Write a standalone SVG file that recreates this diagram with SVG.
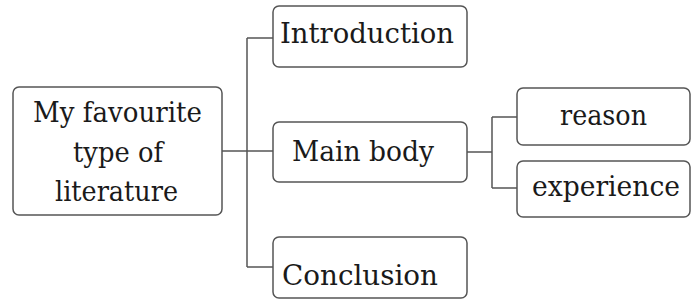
<svg xmlns="http://www.w3.org/2000/svg" width="696" height="302" viewBox="0 0 696 302">
<style>
.box{fill:#fff;stroke:#555;stroke-width:1.5}
.t{font-family:"DejaVu Serif",serif;font-size:28px;fill:#1a1a1a}
.c{fill:none;stroke:#555;stroke-width:1.5}
</style>
<rect width="696" height="302" fill="#fff"/>
<g id="connectors">
<path class="c" d="M222 151H247M247 38V267M247 38H273M247 151H273M247 267H273"/>
<path class="c" d="M467 152H492M492 117V188M492 117H517M492 188H517"/>
</g>
<g id="n-topic">
<rect class="box" x="13" y="87" width="209" height="128" rx="6"/>
<text class="t" x="33" y="122" textLength="169" lengthAdjust="spacingAndGlyphs">My favourite</text>
<text class="t" x="73" y="162" textLength="90" lengthAdjust="spacingAndGlyphs">type of</text>
<text class="t" x="55" y="201" textLength="123" lengthAdjust="spacingAndGlyphs">literature</text>
</g>
<g id="n-intro">
<rect class="box" x="273" y="6" width="194" height="61" rx="6"/>
<text class="t" x="280" y="43" textLength="174" lengthAdjust="spacingAndGlyphs">Introduction</text>
</g>
<g id="n-main">
<rect class="box" x="273" y="122" width="194" height="60" rx="6"/>
<text class="t" x="292" y="161" textLength="142" lengthAdjust="spacingAndGlyphs">Main body</text>
</g>
<g id="n-concl">
<rect class="box" x="273" y="237" width="194" height="61" rx="6"/>
<text class="t" x="282" y="285" textLength="156" lengthAdjust="spacingAndGlyphs">Conclusion</text>
</g>
<g id="n-reason">
<rect class="box" x="517" y="88" width="173" height="57" rx="6"/>
<text class="t" x="560" y="125" textLength="87" lengthAdjust="spacingAndGlyphs">reason</text>
</g>
<g id="n-exp">
<rect class="box" x="517" y="161" width="173" height="56" rx="6"/>
<text class="t" x="532" y="196" textLength="148" lengthAdjust="spacingAndGlyphs">experience</text>
</g>
</svg>
